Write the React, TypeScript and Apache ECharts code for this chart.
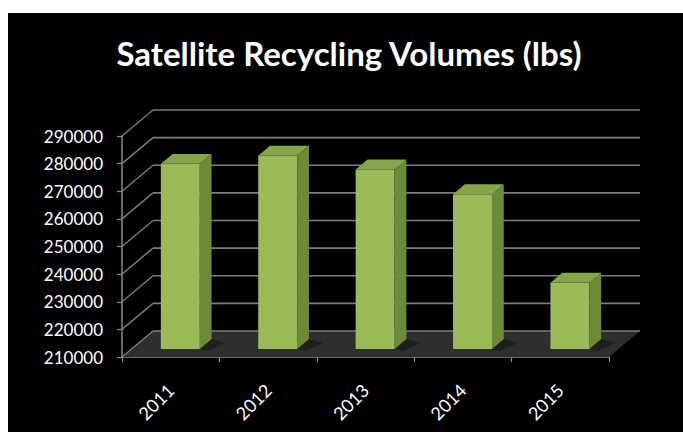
import React, { useEffect, useRef } from "react";
import * as echarts from "echarts";

const categories = ["2011", "2012", "2013", "2014", "2015"];
const volumes = [277000, 280000, 275000, 266000, 234000];
const yTicks = [210000, 220000, 230000, 240000, 250000, 260000, 270000, 280000, 290000];
const titleText = "Satellite Recycling Volumes (lbs)";

const Y_MIN = 210000;
const Y_MAX = 290000;
const DX = 31;
const DY = -26;
const FONT = "Lato";

export default function App() {
  const ref = useRef<HTMLDivElement>(null);

  useEffect(() => {
    document.body.style.overflow = "hidden";
    const chart = echarts.init(ref.current!, null, { renderer: "svg" });

    const floorItem = (params: any, api: any) => {
      const cs = params.coordSys;
      const yb = api.coord([0, Y_MIN])[1];
      return {
        type: "polygon",
        shape: {
          points: [
            [cs.x, yb],
            [cs.x + cs.width, yb],
            [cs.x + cs.width + DX, yb + DY],
            [cs.x + DX, yb + DY],
          ],
        },
        style: { fill: "#2e2e2e" },
      };
    };

    const gridItem = (params: any, api: any) => {
      const cs = params.coordSys;
      const y = api.coord([0, api.value(1)])[1];
      const stroke = "#7c7c7c";
      return {
        type: "group",
        children: [
          {
            type: "line",
            shape: { x1: cs.x, y1: y, x2: cs.x + DX, y2: y + DY },
            style: { stroke, lineWidth: 1.4 },
          },
          {
            type: "line",
            shape: { x1: cs.x + DX, y1: y + DY, x2: cs.x + cs.width + DX, y2: y + DY },
            style: { stroke, lineWidth: 1.6 },
          },
        ],
      };
    };

    const barItem = (params: any, api: any) => {
      const idx = api.value(0);
      const v = api.value(1);
      const top = api.coord([idx, v]);
      const base = api.coord([idx, Y_MIN]);
      const band = api.size([1, 0])[0];
      const w = band * 0.4;
      const f0 = 0.31;
      const f1 = 0.69;
      const xl = top[0] - w / 2 + DX * f0;
      const xr = xl + w;
      const yt = top[1] + DY * f0;
      const yb = base[1] + DY * f0;
      const ddx = DX * (f1 - f0);
      const ddy = DY * (f1 - f0);
      return {
        type: "group",
        children: [
          {
            type: "polygon",
            shape: {
              points: [
                [xr, yb],
                [xr + ddx, yb + ddy],
                [xr + ddx + 14, yb + ddy + 4],
                [xr + 8, yb + 2],
              ],
            },
            style: { fill: "#1f1f1f" },
          },
          {
            type: "rect",
            shape: { x: xl, y: yt, width: w, height: yb - yt },
            style: { fill: "#9bbb59" },
          },
          {
            type: "polygon",
            shape: {
              points: [
                [xr, yt],
                [xr + ddx, yt + ddy],
                [xr + ddx, yb + ddy],
                [xr, yb],
              ],
            },
            style: { fill: "#6d8b37" },
          },
          {
            type: "polygon",
            shape: {
              points: [
                [xl, yt],
                [xr, yt],
                [xr + ddx, yt + ddy],
                [xl + ddx, yt + ddy],
              ],
            },
            style: { fill: "#85a549" },
          },
        ],
      };
    };

    chart.setOption({
      animation: false,
      backgroundColor: "#000000",
      graphic: [
        {
          type: "text",
          x: 341,
          y: 40,
          style: {
            text: titleText,
            fill: "#ffffff",
            font: `bold 33px ${FONT}`,
            textAlign: "center",
            textVerticalAlign: "middle",
          },
        },
      ],
      grid: { left: 114, top: 123, right: 74, bottom: 75, containLabel: false },
      xAxis: {
        type: "category",
        data: categories,
        boundaryGap: true,
        axisLine: { show: true, lineStyle: { color: "#8a8a8a", width: 1.5 } },
        axisTick: { show: true, length: 5, lineStyle: { color: "#8a8a8a", width: 1.2 } },
        axisLabel: {
          rotate: 45,
          margin: 30,
          color: "#ffffff",
          fontFamily: FONT,
          fontSize: 18,
        },
        splitLine: { show: false },
      },
      yAxis: {
        type: "value",
        min: Y_MIN,
        max: Y_MAX,
        interval: 10000,
        axisLine: { show: true, lineStyle: { color: "#8a8a8a", width: 1.5 } },
        axisTick: { show: true, length: 5, lineStyle: { color: "#8a8a8a", width: 1.2 } },
        axisLabel: {
          margin: 19,
          color: "#ffffff",
          fontFamily: FONT,
          fontSize: 17,
          formatter: (v: number) => String(v),
        },
        splitLine: { show: false },
      },
      series: [
        {
          type: "custom",
          z: 1,
          renderItem: floorItem,
          data: [[0, Y_MIN]],
          silent: true,
        },
        {
          type: "custom",
          z: 2,
          renderItem: gridItem,
          data: yTicks.map((t) => [0, t]),
          silent: true,
        },
        {
          type: "custom",
          z: 3,
          renderItem: barItem,
          data: volumes.map((v, i) => [i, v]),
        },
      ],
    });

    return () => chart.dispose();
  }, []);

  return (
    <div
      ref={ref}
      style={{ position: "fixed", left: 8, top: 13, width: 675, height: 419 }}
    />
  );
}
